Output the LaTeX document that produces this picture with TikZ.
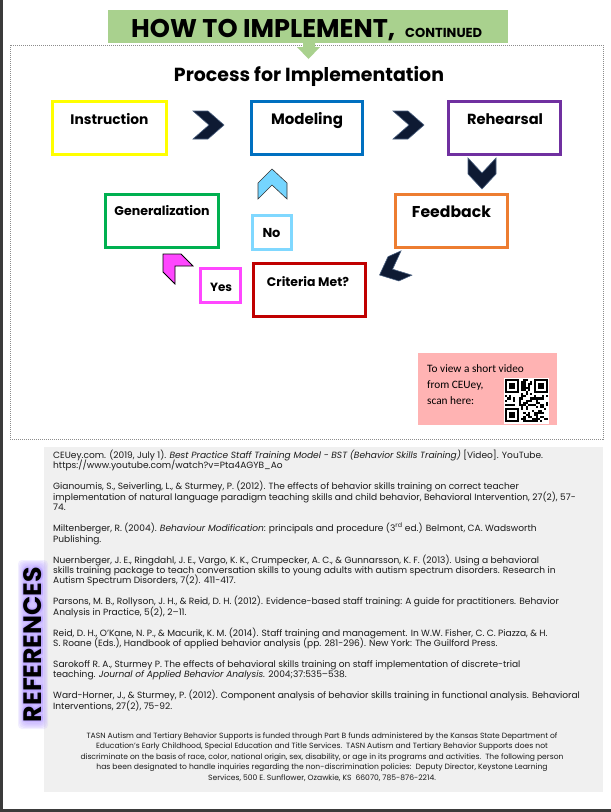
\documentclass[tikz,border=0pt]{standalone}
\usepackage{fontspec}
\setmainfont{Poppins}
\newfontfamily\calibri{Carlito}
\usepackage{graphicx}
\usetikzlibrary{calc}
\definecolor{bannergreen}{HTML}{A9D18E}
\definecolor{ylw}{HTML}{FFFF00}
\definecolor{mblue}{HTML}{0070C0}
\definecolor{rpurple}{HTML}{7030A0}
\definecolor{forange}{HTML}{ED7D31}
\definecolor{ggreen}{HTML}{00B050}
\definecolor{cred}{HTML}{C00000}
\definecolor{ymag}{HTML}{FF47FF}
\definecolor{nblue}{HTML}{80D8FF}
\definecolor{chevlb}{HTML}{75D5FF}
\definecolor{navy}{HTML}{0E1A33}
\definecolor{navyedge}{HTML}{4A6080}
\definecolor{infopink}{HTML}{FFB3B3}
\definecolor{refgray}{HTML}{F0F0F0}
\definecolor{lav}{HTML}{B49CFF}
\definecolor{pagebar}{HTML}{3B3B3B}
\definecolor{dashgray}{HTML}{8C8C8C}
\definecolor{reftxt}{HTML}{1A1A1A}
\newcommand\fitw[2]{\resizebox{#1pt}{!}{#2}}
\tikzset{
  procbox/.style={draw, line width=2.6pt, fill=white, inner sep=0pt},
  lbl/.style={inner sep=0pt, anchor=base, font=\bfseries},
  chev/.style={fill=navy, draw=navyedge, line width=0.6pt, line join=miter},
  reftext/.style={inner sep=0pt, anchor=base west, text=reftxt, font=\fontsize{9.05}{10}\selectfont},
  foottext/.style={inner sep=0pt, anchor=base, text=reftxt, font=\fontsize{7.6}{10}\selectfont},
}
\newcommand\rl[3]{\node[reftext] (#1) at (53,{458.5+#2*10.45}) {#3};}
\newcommand\fl[3]{\node[foottext] (#1) at (322,{738+#2*10.5}) {#3};}
\begin{document}
\begin{tikzpicture}[x=1pt,y=-1pt]
\useasboundingbox (0,0) rectangle (611,812);
\fill[white] (0,0) rectangle (611,812);
\fill[pagebar] (0,0) rectangle (2.6,812);
\fill[pagebar] (0,809.4) rectangle (611,812);
% dashed frame
\draw[dashgray, line width=0.8pt, dash pattern=on 1pt off 1pt] (10,45) rectangle (603,439);
% banner
\fill[bannergreen] (108,10) rectangle (508,43);
\fill[bannergreen] (303,42) -- (315,42) -- (315,47) -- (320,47) -- (308.5,59) -- (297,47) -- (303,47) -- cycle;
\node[lbl, anchor=base west] (howto) at (131,37) {\fitw{264}{\bfseries HOW TO IMPLEMENT,}};
\node[lbl, anchor=base west] (contd) at (405,37) {\fitw{77}{\bfseries CONTINUED}};
\node[lbl] (ptitle) at (309,81) {\fitw{270}{\bfseries Process for Implementation}};
% process boxes
\node[procbox, draw=ylw, minimum width=114.4pt, minimum height=53.4pt] (instr) at (109.5,128) {};
\node[procbox, draw=mblue, minimum width=111.4pt, minimum height=53.4pt] (model) at (307,128) {};
\node[procbox, draw=rpurple, minimum width=112.4pt, minimum height=53.4pt] (rehear) at (504.5,128) {};
\node[procbox, draw=ggreen, minimum width=113.4pt, minimum height=53.4pt] (gener) at (162,221) {};
\node[procbox, draw=forange, minimum width=112.4pt, minimum height=53.4pt] (feedb) at (451.5,221) {};
\node[procbox, draw=nblue, minimum width=39.4pt, minimum height=34.4pt] (nobox) at (272,232.5) {};
\node[procbox, draw=ymag, minimum width=40.4pt, minimum height=34.4pt] (yesbox) at (220.5,285.5) {};
\node[procbox, draw=cred, minimum width=112.4pt, minimum height=53.4pt] (crit) at (309.5,290) {};
% labels
\node[lbl] (instrt) at (109.5,124) {\fitw{78}{\bfseries Instruction}};
\node[lbl] (modelt) at (307,124) {\fitw{72}{\bfseries Modeling}};
\node[lbl] (reheart) at (505,124) {\fitw{76}{\bfseries Rehearsal}};
\node[lbl] (genert) at (162,215) {\fitw{95}{\bfseries Generalization}};
\node[lbl] (feedbt) at (451.5,217) {\fitw{79}{\bfseries Feedback}};
\node[lbl] (not) at (271.5,237) {\fitw{18}{\bfseries No}};
\node[lbl] (yest) at (221,291) {\fitw{22}{\bfseries Yes}};
\node[lbl] (critt) at (308,286) {\fitw{82}{\bfseries Criteria Met?}};
% chevrons
\draw[chev] (193,111) -- (208,111) -- (224,125) -- (208,139) -- (193,139) -- (209,125) -- cycle;
\draw[chev] (393,111) -- (408,111) -- (424,125) -- (408,139) -- (393,139) -- (409,125) -- cycle;
\draw[chev] (468,158) -- (482,173) -- (496,158) -- (496,174) -- (482,189) -- (468,174) -- cycle;
\begin{scope}[shift={(393,269)}, rotate=24, scale=0.95]
\draw[chev] (15.5,-14) -- (0.5,-14) -- (-15.5,0) -- (0.5,14) -- (15.5,14) -- (-0.5,0) -- cycle;
\end{scope}
\draw[fill=chevlb, draw=black!80, line width=0.6pt] (258,183) -- (272,169) -- (287,183) -- (287,199) -- (272,185) -- (258,199) -- cycle;
\draw[fill=ymag, draw=black, line width=0.8pt] (163,254) -- (181,254) -- (193,266) -- (175,266) -- (175,284) -- (163,272) -- cycle;
% info box
\fill[infopink] (418,353) rectangle (557,425);
\node[inner sep=0pt, anchor=base west, font=\calibri\fontsize{11.3}{13}\selectfont] (info1) at (427,372) {To view a short video};
\node[inner sep=0pt, anchor=base west, font=\calibri\fontsize{11.3}{13}\selectfont] (info2) at (427,388) {from CEUey,};
\node[inner sep=0pt, anchor=base west, font=\calibri\fontsize{11.3}{13}\selectfont] (info3) at (427,404) {scan here:};
% QR code
\fill[white] (504,378) rectangle (549,424);
\pgfmathsetseed{4242}
\foreach \i in {0,...,20}{
  \foreach \j in {0,...,20}{
    \pgfmathtruncatemacro\qrskip{((\i<8)*(\j<8)) + ((\i>12)*(\j<8)) + ((\i<8)*(\j>12))}
    \pgfmathrandominteger{\qrr}{0}{1}
    \ifnum\qrskip=0 \ifnum\qrr=1
      \fill[black] ({505+\i*2.05},{379+\j*2.05}) rectangle ++(2.05,2.05);
    \fi\fi
  }
}
\foreach \ox/\oy in {0/0, 14/0, 0/14}{
  \fill[black] ({505+\ox*2.05},{379+\oy*2.05}) rectangle ++(14.35,14.35);
  \fill[white] ({505+\ox*2.05+2.05},{379+\oy*2.05+2.05}) rectangle ++(10.25,10.25);
  \fill[black] ({505+\ox*2.05+4.1},{379+\oy*2.05+4.1}) rectangle ++(6.15,6.15);
}
% references area
\fill[refgray] (44,447) rectangle (603,792);
% soft glow behind the heading
\foreach \g in {0,1,2,3,4}{
  \fill[lav, opacity=0.16, rounded corners={4pt+\g*0.6pt}] ({18+\g*1.2},{560+\g*1.2}) rectangle ({48-\g*1.2},{729-\g*1.2});
}
\foreach \a in {0,45,...,315}{
  \node[inner sep=0pt, rotate=90, text=lav, opacity=0.3] (glow\a) at ($(33,644.5)+(\a:1.6)$) {\fitw{155}{\bfseries REFERENCES}};
}
\node[inner sep=0pt, rotate=90, text=black] (refhead) at (33,644.5) {\fitw{155}{\bfseries REFERENCES}};
\rl{r1}{0}{CEUey.com. (2019, July 1). \textit{Best Practice Staff Training Model - BST (Behavior Skills Training)} [Video]. YouTube.}
\rl{r2}{1}{https://www.youtube.com/watch?v=Pta4AGYB\_Ao}
\rl{r3}{3}{Gianoumis, S., Seiverling, L., \& Sturmey, P. (2012). The effects of behavior skills training on correct teacher}
\rl{r4}{4}{implementation of natural language paradigm teaching skills and child behavior, Behavioral Intervention, 27(2), 57-}
\rl{r5}{5}{74.}
\rl{r6}{7}{Miltenberger, R. (2004). \textit{Behaviour Modification}: principals and procedure (3\textsuperscript{rd} ed.) Belmont, CA. Wadsworth}
\rl{r7}{8}{Publishing.}
\rl{r8}{10}{Nuernberger, J. E., Ringdahl, J. E., Vargo, K. K., Crumpecker, A. C., \& Gunnarsson, K. F. (2013). Using a behavioral}
\rl{r9}{11}{skills training package to teach conversation skills to young adults with autism spectrum disorders. Research in}
\rl{r10}{12}{Autism Spectrum Disorders, 7(2). 411-417.}
\rl{r11}{14}{Parsons, M. B., Rollyson, J. H., \& Reid, D. H. (2012). Evidence-based staff training: A guide for practitioners. Behavior}
\rl{r12}{15}{Analysis in Practice, 5(2), 2–11.}
\rl{r13}{17}{Reid, D. H., O'Kane, N. P., \& Macurik, K. M. (2014). Staff training and management. In W.W. Fisher, C. C. Piazza, \& H.}
\rl{r14}{18}{S. Roane (Eds.), Handbook of applied behavior analysis (pp. 281-296). New York: The Guilford Press.}
\rl{r15}{20}{Sarokoff R. A., Sturmey P. The effects of behavioral skills training on staff implementation of discrete-trial}
\rl{r16}{21}{teaching. \textit{Journal of Applied Behavior Analysis.} 2004;37:535–538.}
\rl{r17}{23}{Ward-Horner, J., \& Sturmey, P. (2012). Component analysis of behavior skills training in functional analysis. Behavioral}
\rl{r18}{24}{Interventions, 27(2), 75-92.}
\fl{f1}{0}{TASN Autism and Tertiary Behavior Supports is funded through Part B funds administered by the Kansas State Department of}
\fl{f2}{1}{Education's Early Childhood, Special Education and Title Services.\ \ TASN Autism and Tertiary Behavior Supports does not}
\fl{f3}{2}{discriminate on the basis of race, color, national origin, sex, disability, or age in its programs and activities.\ \ The following person}
\fl{f4}{3}{has been designated to handle inquiries regarding the non-discrimination policies:\ \ Deputy Director, Keystone Learning}
\fl{f5}{4}{Services, 500 E. Sunflower, Ozawkie, KS\ \ 66070, 785-876-2214.}
\end{tikzpicture}
\end{document}
